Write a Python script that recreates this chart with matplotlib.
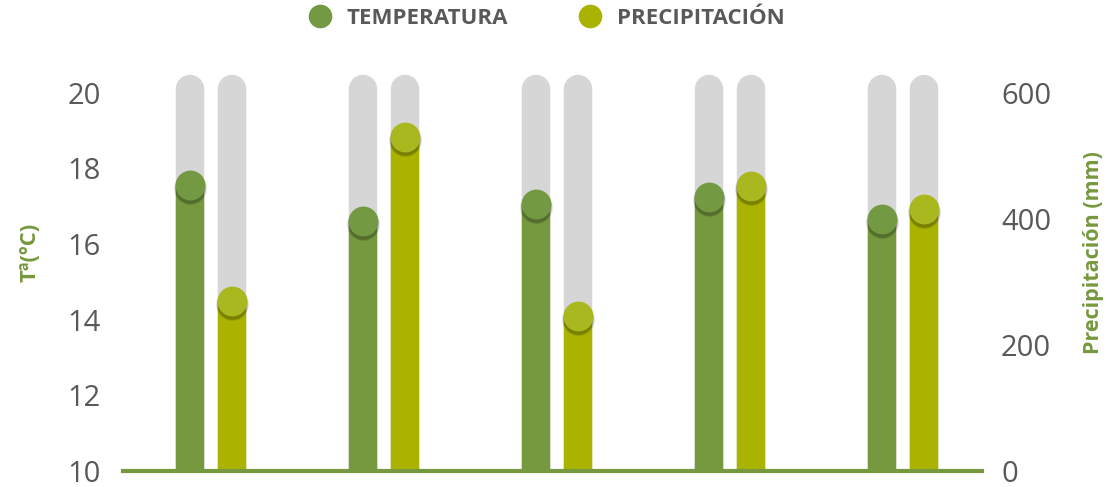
import numpy as np
import matplotlib
matplotlib.use("Agg")
import matplotlib.pyplot as plt
import matplotlib.transforms as mtransforms
from matplotlib.lines import Line2D

plt.rcParams['font.family'] = ['Open Sans', 'DejaVu Sans']

# values
groups = [1, 2, 3, 4, 5]
temperatura = [17.55, 16.6, 17.05, 17.25, 16.65]
precipitacion = [270, 530, 246, 452, 416]
temp_ticks = [10, 12, 14, 16, 18, 20]
prec_ticks = [0, 200, 400, 600]

TEMP_C = "#76993f"
TEMP_DOT = "#739a42"
PREC_C = "#aab400"
PREC_DOT = "#a9b81e"
GREY = "#d6d6d6"
TXT = "#595959"

fig = plt.figure(figsize=(11.18, 4.87), dpi=100)
ax = fig.add_axes([0.110, 0.033, 0.768, 0.823])
ax2 = ax.twinx()

x = np.arange(len(groups))
off = 0.121
lw = 20.5
ymax_t = 20.6
scale = 600 / 10
ax.set_xlim(-0.51, 4.455)
ax.set_ylim(10, ymax_t)
ax2.set_ylim(0, (ymax_t - 10) * scale)

# grey background tracks with rounded tops (drawn on the lower axes)
track_top = (20.1 - 10) * scale
for xi in x:
    for dx in (-off, off):
        ax2.plot([xi + dx, xi + dx], [-30, track_top], color=GREY, lw=lw,
                 solid_capstyle='round', zorder=1)

shadow = mtransforms.offset_copy(ax.transData, fig=fig, x=0, y=-3, units='dots')
shadow2 = mtransforms.offset_copy(ax2.transData, fig=fig, x=0, y=-3, units='dots')

# precipitation bars
for xi, p in zip(x, precipitacion):
    ax2.plot([xi + off, xi + off], [0, p], color=PREC_C, lw=lw,
             solid_capstyle='butt', zorder=2)
    for s, a in ((24, 0.06), (23, 0.1), (22, 0.15)):
        ax2.plot(xi + off, p, 'o', ms=s, color='black', alpha=a, mec='none',
                 transform=shadow2, zorder=3)
    ax2.plot(xi + off, p, 'o', ms=21.5, color=PREC_DOT, mec='none', zorder=4)

# temperature bars
for xi, t in zip(x, temperatura):
    ax.plot([xi - off, xi - off], [10, t], color=TEMP_C, lw=lw,
            solid_capstyle='butt', zorder=2)
    for s, a in ((24, 0.06), (23, 0.1), (22, 0.15)):
        ax.plot(xi - off, t, 'o', ms=s, color='black', alpha=a, mec='none',
                transform=shadow, zorder=3)
    ax.plot(xi - off, t, 'o', ms=21.5, color=TEMP_DOT, mec='none', zorder=4)

ax.set_zorder(ax2.get_zorder() + 1)
ax.patch.set_visible(False)

for a in (ax, ax2):
    for sp in a.spines.values():
        sp.set_visible(False)
    a.set_xticks([])
ax.spines['bottom'].set_visible(True)
ax.spines['bottom'].set_color(TEMP_C)
ax.spines['bottom'].set_linewidth(3)
ax.spines['bottom'].set_zorder(5)

ax.set_yticks(temp_ticks)
ax.tick_params(axis='y', length=0, pad=16, labelsize=21, labelcolor=TXT)
ax2.set_yticks(prec_ticks)
ax2.tick_params(axis='y', length=0, pad=14, labelsize=21, labelcolor=TXT)

fig.text(0.027, 0.482, "Tª(ºC)", rotation=90, ha='center', va='center',
         color=TEMP_C, fontsize=16, fontweight='bold')
fig.text(0.978, 0.482, "Precipitación (mm)", rotation=90, ha='center', va='center',
         color=TEMP_C, fontsize=15.5, fontweight='bold')

handles = [Line2D([], [], marker='o', ls='none', ms=17, color=TEMP_DOT, mec='none'),
           Line2D([], [], marker='o', ls='none', ms=17, color=PREC_C, mec='none')]
fig.legend(handles, ["TEMPERATURA", "PRECIPITACIÓN"], loc='center',
           bbox_to_anchor=(0.489, 0.962), ncol=2, frameon=False,
           handlelength=1.0, handletextpad=0.7, columnspacing=3.2,
           prop={'size': 16, 'weight': 'bold'}, labelcolor=TXT)

fig.savefig("out.png", dpi=100)
